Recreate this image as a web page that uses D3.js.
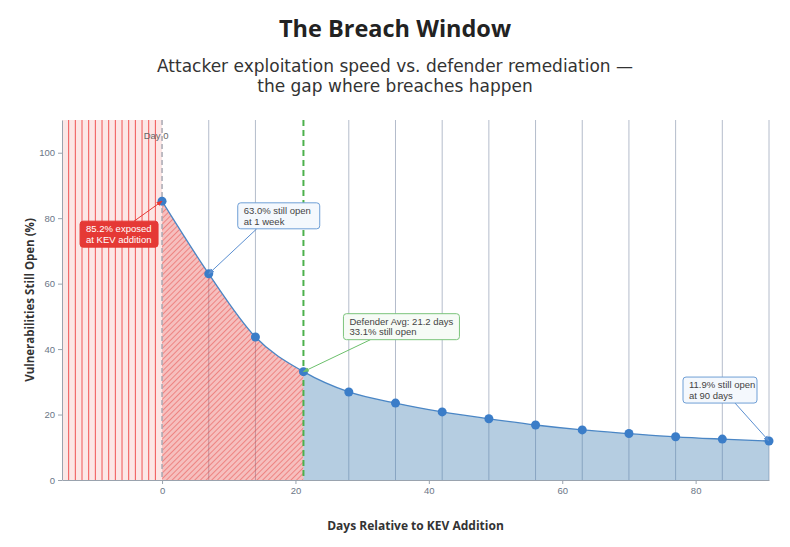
<!DOCTYPE html>
<html>
<head>
<meta charset="utf-8">
<script src="https://cdn.jsdelivr.net/npm/d3@7"></script>
<style>
	body { margin: 0; background: #fff; }
	svg { display: block; font-family: "Open Sans", "DejaVu Sans", sans-serif; }
	.axis path, .axis line { stroke: #9aa3ae; }
	.axis text { fill: #6b7686; font-size: 9.5px; }
	.note { font-family: "Liberation Sans", Arial, sans-serif; font-size: 9.5px; }
	.subtitle { font-family: "DejaVu Sans", sans-serif; font-size: 17px; }
</style>
</head>
<body>
<div id="chart"></div>
<script>
// data
var days = [0, 7, 14, 21.2, 28, 35, 42, 49, 56, 63, 70, 77, 84, 91];
var stillOpen = [85.2, 63.0, 43.7, 33.1, 26.9, 23.5, 20.8, 18.7, 16.8, 15.3, 14.2, 13.2, 12.5, 11.9];
var defenderAvgDay = 21.2;
var xDomain = [-15, 91];
var yDomain = [0, 110];
var xTicks = [0, 20, 40, 60, 80];
var yTicks = [0, 20, 40, 60, 80, 100];

// callouts: index into the series, text lines, style
var notes = [
	{ i: 0, lines: ["85.2% exposed", "at KEV addition"], kind: "red" },
	{ i: 1, lines: ["63.0% still open", "at 1 week"], kind: "blue" },
	{ i: 3, lines: ["Defender Avg: 21.2 days", "33.1% still open"], kind: "green" },
	{ i: 13, lines: ["11.9% still open", "at 90 days"], kind: "blue" }
];

var W = 790, H = 547;
var margin = { top: 120, right: 21, bottom: 67, left: 62 };
var width = W - margin.left - margin.right,
	height = H - margin.top - margin.bottom;

var points = days.map(function(d, i) { return { day: d, value: stillOpen[i] }; });

var svg = d3.select("#chart").append("svg")
	.attr("width", W)
	.attr("height", H);

var x = d3.scaleLinear().domain(xDomain).range([0, width]);
var y = d3.scaleLinear().domain(yDomain).range([height, 0]);

var defs = svg.append("defs");

// diagonal hatch for the attacker window
var hatch = defs.append("pattern")
	.attr("id", "hatch")
	.attr("patternUnits", "userSpaceOnUse")
	.attr("width", 4)
	.attr("height", 4)
	.attr("patternTransform", "rotate(45)");
hatch.append("rect").attr("width", 4).attr("height", 4).attr("fill", "#e53935").attr("fill-opacity", 0.32);
hatch.append("line")
	.attr("x1", 0).attr("y1", 0).attr("x2", 0).attr("y2", 4)
	.attr("stroke", "#e53935").attr("stroke-opacity", 0.55).attr("stroke-width", 1.6);

defs.append("clipPath").attr("id", "clip-red")
	.append("rect")
	.attr("x", x(0)).attr("y", 0)
	.attr("width", x(defenderAvgDay) - x(0)).attr("height", height);

defs.append("clipPath").attr("id", "clip-blue")
	.append("rect")
	.attr("x", x(defenderAvgDay)).attr("y", 0)
	.attr("width", x(xDomain[1]) - x(defenderAvgDay)).attr("height", height);

// arrowheads for the callout connectors
var colors = {
	red: { stroke: "#e53935", fill: "#e53935", text: "#fff", line: "#e53935" },
	blue: { stroke: "#6f9fd6", fill: "#f4f8fd", text: "#444", line: "#5b8fd0" },
	green: { stroke: "#7cc47c", fill: "#f6fbf6", text: "#444", line: "#6cc06c" }
};
Object.keys(colors).forEach(function(k) {
	defs.append("marker")
		.attr("id", "arrow-" + k)
		.attr("viewBox", "0 0 10 10")
		.attr("refX", 9).attr("refY", 5)
		.attr("markerWidth", 6).attr("markerHeight", 6)
		.attr("orient", "auto")
		.append("path")
		.attr("d", "M0,1L10,5L0,9Z")
		.attr("fill", colors[k].line);
});

var g = svg.append("g")
	.attr("transform", "translate(" + margin.left + "," + margin.top + ")");

// pre-disclosure exposure band (before day 0)
g.append("rect")
	.attr("x", x(xDomain[0]))
	.attr("y", 0)
	.attr("width", x(0) - x(xDomain[0]))
	.attr("height", height)
	.attr("fill", "#e53935")
	.attr("fill-opacity", 0.12);

g.append("g")
	.selectAll("line")
	.data(d3.range(-14, 0))
	.join("line")
	.attr("x1", function(d) { return x(d); })
	.attr("x2", function(d) { return x(d); })
	.attr("y1", 0)
	.attr("y2", height)
	.attr("stroke", "#ee3b3b")
	.attr("stroke-opacity", 0.85)
	.attr("stroke-width", 1);

// weekly grid lines
g.append("g")
	.selectAll("line")
	.data(days.filter(function(d) { return d > 0 && d !== defenderAvgDay; }))
	.join("line")
	.attr("x1", function(d) { return x(d); })
	.attr("x2", function(d) { return x(d); })
	.attr("y1", 0)
	.attr("y2", height)
	.attr("stroke", "#b4bccb")
	.attr("stroke-width", 1);

var area = d3.area()
	.x(function(d) { return x(d.day); })
	.y0(height)
	.y1(function(d) { return y(d.value); })
	.curve(d3.curveMonotoneX);

var line = d3.line()
	.x(function(d) { return x(d.day); })
	.y(function(d) { return y(d.value); })
	.curve(d3.curveMonotoneX);

g.append("path")
	.datum(points)
	.attr("clip-path", "url(#clip-red)")
	.attr("fill", "url(#hatch)")
	.attr("d", area);

g.append("path")
	.datum(points)
	.attr("clip-path", "url(#clip-blue)")
	.attr("fill", "#4682b4")
	.attr("fill-opacity", 0.4)
	.attr("d", area);

g.append("path")
	.datum(points)
	.attr("fill", "none")
	.attr("stroke", "#4a86c5")
	.attr("stroke-width", 1.3)
	.attr("d", line);

// day 0 marker
g.append("line")
	.attr("x1", x(0)).attr("x2", x(0))
	.attr("y1", 0).attr("y2", height)
	.attr("stroke", "#a9a9b3")
	.attr("stroke-width", 1.5)
	.attr("stroke-dasharray", "5,3");

g.append("text")
	.attr("class", "note")
	.attr("x", x(0) - 6)
	.attr("y", 19)
	.attr("text-anchor", "middle")
	.attr("fill", "#666")
	.text("Day 0");

// defender average
g.append("line")
	.attr("x1", x(defenderAvgDay)).attr("x2", x(defenderAvgDay))
	.attr("y1", 0).attr("y2", height)
	.attr("stroke", "#4cb04c")
	.attr("stroke-width", 2)
	.attr("stroke-dasharray", "6,4");

g.selectAll("circle.pt")
	.data(points)
	.join("circle")
	.attr("class", "pt")
	.attr("cx", function(d) { return x(d.day); })
	.attr("cy", function(d) { return y(d.value); })
	.attr("r", 4.5)
	.attr("fill", "#3b7dc8");

// axes
var xAxis = g.append("g")
	.attr("class", "x axis")
	.attr("transform", "translate(0," + height + ")")
	.call(d3.axisBottom(x).tickValues(xTicks).tickSize(4).tickSizeOuter(0));

var yAxis = g.append("g")
	.attr("class", "y axis")
	.call(d3.axisLeft(y).tickValues(yTicks).tickSize(4).tickSizeOuter(0));

// callouts
// box offsets from the point and where the connector leaves the box
var placement = [
	{ bx: -82, by: 20, w: 78, ax: 54, side: "top" },
	{ bx: 29, by: -71, w: 82, ax: 19, side: "bottom" },
	{ bx: 40, by: -58, w: 116, ax: 27, side: "bottom" },
	{ bx: -86, by: -64, w: 74, ax: 52, side: "bottom" }
];

notes.forEach(function(n, k) {
	var p = points[n.i],
		px = x(p.day),
		py = y(p.value),
		pl = placement[k],
		c = colors[n.kind],
		bh = 26;

	var bx = px + pl.bx, by = py + pl.by;
	var sx = bx + pl.ax, sy = pl.side === "top" ? by : by + bh;

	g.append("line")
		.attr("x1", sx).attr("y1", sy)
		.attr("x2", px).attr("y2", py)
		.attr("stroke", c.line)
		.attr("stroke-width", 1)
		.attr("marker-end", "url(#arrow-" + n.kind + ")");

	g.append("rect")
		.attr("x", bx).attr("y", by)
		.attr("width", pl.w).attr("height", bh)
		.attr("rx", 3)
		.attr("fill", c.fill)
		.attr("stroke", c.stroke)
		.attr("stroke-width", 1);

	g.selectAll(null)
		.data(n.lines)
		.join("text")
		.attr("class", "note")
		.attr("x", bx + 6)
		.attr("y", function(d, i) { return by + 11 + i * 10.8; })
		.attr("fill", c.text)
		.text(function(d) { return d; });
});

// titles
svg.append("text")
	.attr("x", W / 2)
	.attr("y", 37)
	.attr("text-anchor", "middle")
	.attr("fill", "#222")
	.style("font-size", "23.5px")
	.style("font-weight", 700)
	.text("The Breach Window");

svg.append("text")
	.attr("class", "subtitle")
	.attr("x", W / 2)
	.attr("y", 71.5)
	.attr("text-anchor", "middle")
	.attr("fill", "#333")
	.text("Attacker exploitation speed vs. defender remediation \u2014");

svg.append("text")
	.attr("class", "subtitle")
	.attr("x", W / 2)
	.attr("y", 92)
	.attr("text-anchor", "middle")
	.attr("fill", "#333")
	.text("the gap where breaches happen");

// axis labels
svg.append("text")
	.attr("x", margin.left + width / 2)
	.attr("y", 530)
	.attr("text-anchor", "middle")
	.attr("fill", "#333")
	.style("font-size", "12px")
	.style("font-weight", 700)
	.text("Days Relative to KEV Addition");

svg.append("text")
	.attr("transform", "translate(34," + (margin.top + height / 2) + ")rotate(-90)")
	.attr("text-anchor", "middle")
	.attr("fill", "#333")
	.style("font-size", "11.5px")
	.style("font-weight", 700)
	.text("Vulnerabilities Still Open (%)");
</script>
</body>
</html>
